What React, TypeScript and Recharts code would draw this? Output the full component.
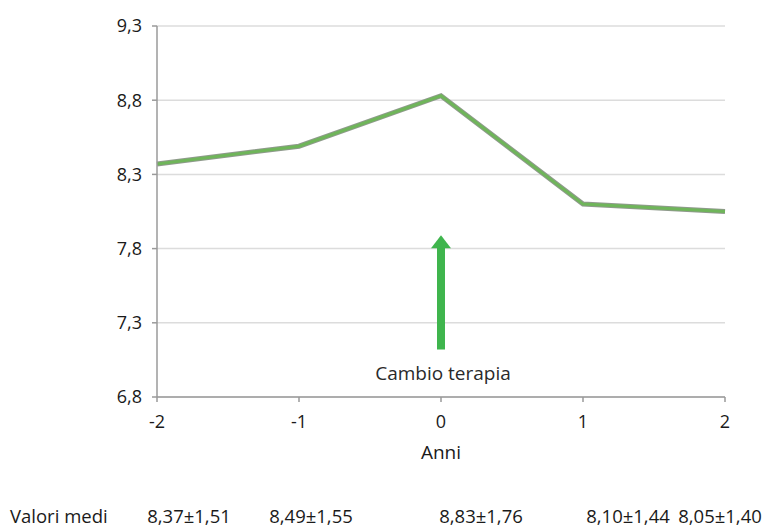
import { LineChart, Line, XAxis, YAxis, CartesianGrid, ReferenceArea } from 'recharts';

const years = [-2, -1, 0, 1, 2];
const meanValues = [8.37, 8.49, 8.83, 8.1, 8.05];
const meanLabels = ['8,37±1,51', '8,49±1,55', '8,83±1,76', '8,10±1,44', '8,05±1,40'];
const yTicks = [6.8, 7.3, 7.8, 8.3, 8.8, 9.3];

const data = years.map((y, i) => ({ year: y, value: meanValues[i] }));

const FONT = '"Open Sans", "DejaVu Sans", sans-serif';
const fmt = (v: number) => v.toFixed(1).replace('.', ',');

// green up-arrow drawn inside the reference area's box
function Arrow(props: any) {
  const { x, y, width, height } = props;
  const cx = x + width / 2;
  const head = 13;
  return (
    <g>
      <rect x={cx - 4} y={y + head - 1} width={8} height={height - head + 1} fill="#3fb54d" />
      <polygon points={`${cx - 10},${y + head} ${cx + 10},${y + head} ${cx},${y}`} fill="#3fb54d" />
    </g>
  );
}

export default function App() {
  // centres of the bottom "Valori medi" strings
  const labelX = [189, 311, 481, 628, 720];
  return (
    <div style={{ position: 'absolute', left: 0, top: 0, width: 766, height: 527, background: '#fff', fontFamily: FONT }}>
      <LineChart width={766} height={470} data={data} margin={{ top: 26, right: 41, left: 97, bottom: 0 }}>
        <CartesianGrid vertical={false} stroke="#dcdcdc" strokeWidth={1.5} />
        <XAxis
          dataKey="year"
          type="number"
          domain={[-2, 2]}
          ticks={years}
          height={73}
          stroke="#9a9a9a"
          strokeWidth={1.5}
          tickSize={5}
          tickMargin={13}
          tick={{ fill: '#1a1a1a', fontSize: 18, fontFamily: FONT }}
          label={{ value: 'Anni', position: 'insideBottom', offset: 11, fill: '#1a1a1a', fontSize: 19, fontFamily: FONT }}
        />
        <YAxis
          type="number"
          domain={[6.8, 9.3]}
          ticks={yTicks}
          width={60}
          stroke="#9a9a9a"
          strokeWidth={1.5}
          tickSize={5}
          tickMargin={10}
          tickFormatter={fmt}
          tick={{ fill: '#1a1a1a', fontSize: 18, fontFamily: FONT }}
        />
        <ReferenceArea x1={-0.05} x2={0.05} y1={7.12} y2={7.89} shape={<Arrow />} ifOverflow="visible" />
        <Line dataKey="value" stroke="#8f9a8c" strokeWidth={5} dot={false} isAnimationActive={false} />
        <Line dataKey="value" stroke="#6fb55a" strokeWidth={3} dot={false} isAnimationActive={false} />
      </LineChart>
      <div style={{ position: 'absolute', left: 0, top: 360, width: 886, textAlign: 'center', fontSize: 19, color: '#2a2a2a' }}>
        Cambio terapia
      </div>
      <div style={{ position: 'absolute', left: 10, top: 503, fontSize: 18.5, color: '#1a1a1a' }}>Valori medi</div>
      {meanLabels.map((t, i) => (
        <div
          key={t}
          style={{ position: 'absolute', left: labelX[i] - 60, width: 120, top: 503, textAlign: 'center', fontSize: 18.5, color: '#1a1a1a' }}
        >
          {t}
        </div>
      ))}
    </div>
  );
}
